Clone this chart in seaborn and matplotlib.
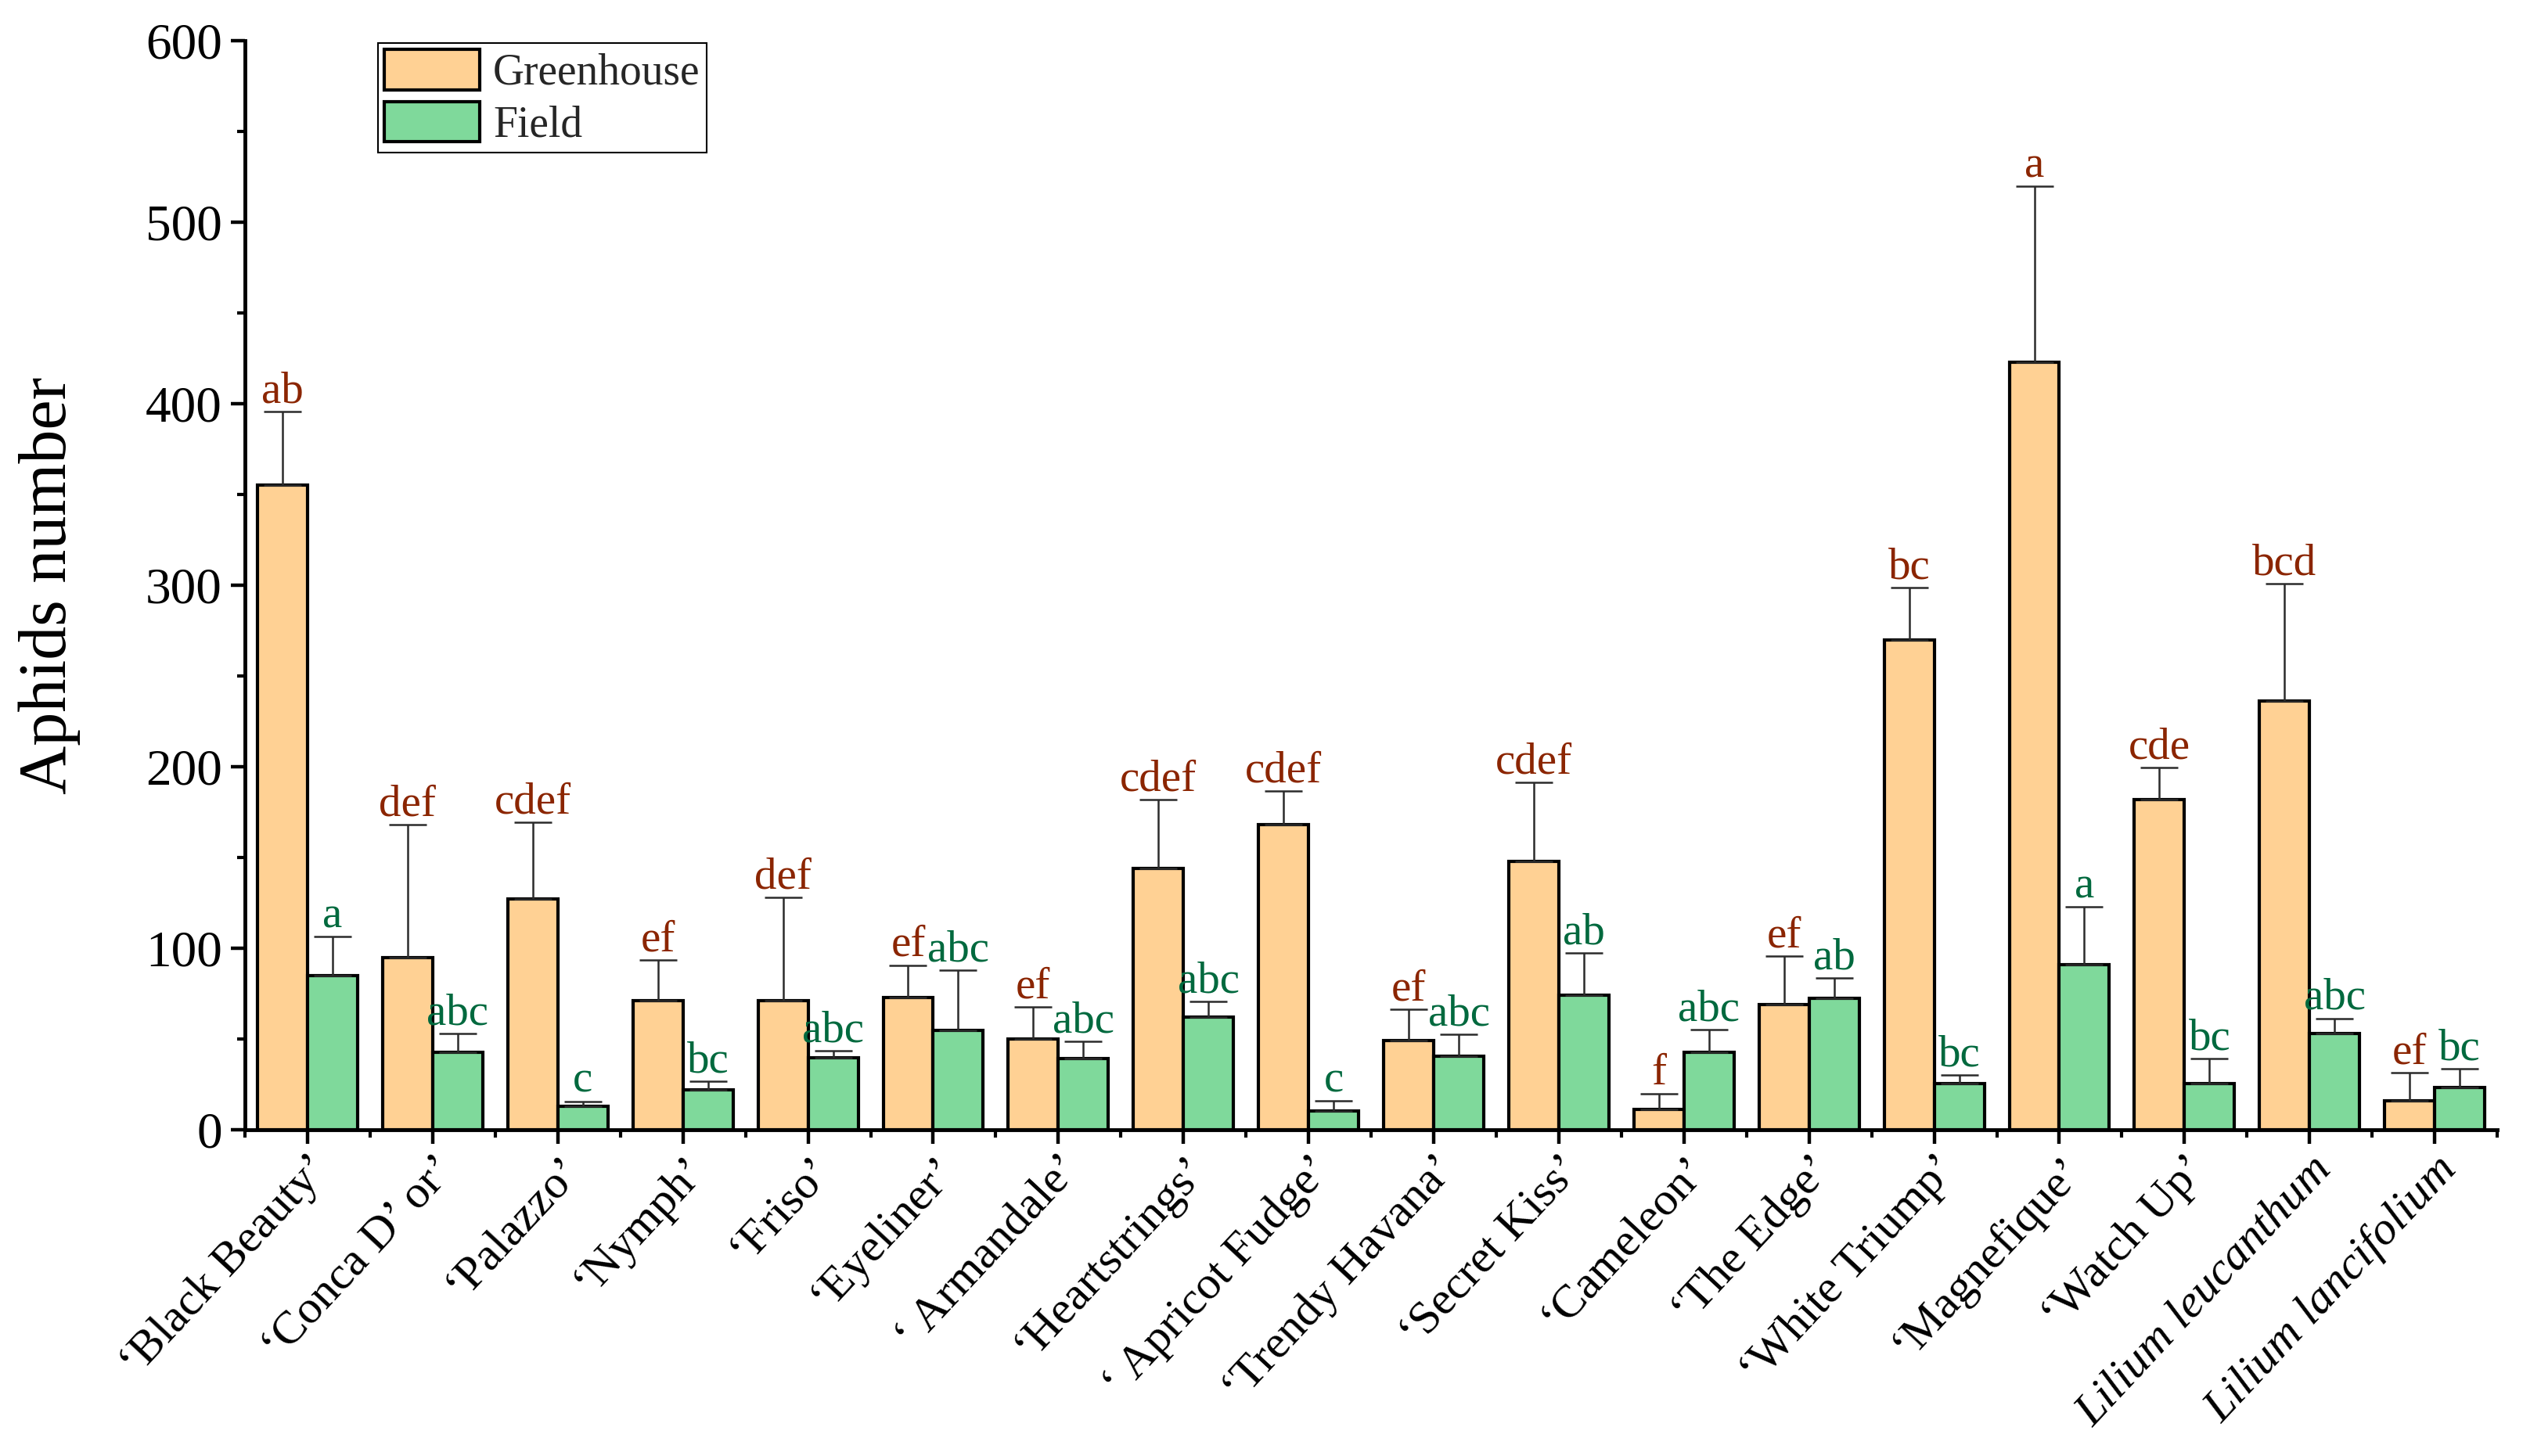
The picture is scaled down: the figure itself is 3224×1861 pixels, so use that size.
import numpy as np
import pandas as pd
import matplotlib
matplotlib.use("Agg")
import matplotlib.pyplot as plt
from matplotlib.ticker import MultipleLocator, FixedLocator
import seaborn as sns

cultivars = ["‘Black Beauty’", "‘Conca D’ or’", "‘Palazzo’", "‘Nymph’", "‘Friso’",
             "‘Eyeliner’", "‘ Armandale’", "‘Heartstrings’", "‘ Apricot Fudge’",
             "‘Trendy Havana’", "‘Secret Kiss’", "‘Cameleon’", "‘The Edge’",
             "‘White Triump’", "‘Magnefique’", "‘Watch Up’",
             "Lilium leucanthum", "Lilium lancifolium"]
italic_labels = ["Lilium leucanthum", "Lilium lancifolium"]

greenhouse_mean = [355, 95, 127, 71, 71, 73, 50, 144, 168, 49, 148, 11, 69, 270, 423, 182, 236, 16]
greenhouse_se = [40.5, 73, 42.5, 22.5, 57, 17.7, 17.6, 37.8, 18.7, 17.4, 43.3, 8.8, 26.6, 28.8, 97, 17.6, 64.7, 15.5]
field_mean = [85, 42.5, 12.7, 22.1, 39.5, 54.8, 39.0, 62.2, 10.5, 40.6, 74.3, 42.6, 72.2, 25.3, 91, 25.2, 52.9, 23.4]
field_se = [21.4, 10.5, 3.0, 4.4, 3.9, 33.2, 9.6, 8.3, 5.4, 11.9, 23.1, 12.6, 11.5, 4.7, 31.7, 13.9, 8.5, 10.3]

greenhouse_letters = ["ab", "def", "cdef", "ef", "def", "ef", "ef", "cdef", "cdef", "ef",
                      "cdef", "f", "ef", "bc", "a", "cde", "bcd", "ef"]
field_letters = ["a", "abc", "c", "bc", "abc", "abc", "abc", "abc", "c", "abc",
                 "ab", "abc", "ab", "bc", "a", "bc", "abc", "bc"]

conditions = ["Greenhouse", "Field"]
bar_colors = {"Greenhouse": "#FFD194", "Field": "#7FD99B"}
letter_colors = {"Greenhouse": "#8B2500", "Field": "#00693E"}

df = pd.DataFrame({
    "cultivar": cultivars * 2,
    "condition": ["Greenhouse"] * len(cultivars) + ["Field"] * len(cultivars),
    "aphids": greenhouse_mean + field_mean,
})

sns.set_theme(style="ticks")
plt.rcParams["font.family"] = ["Liberation Serif", "DejaVu Serif"]

fig = plt.figure(figsize=(32.24, 18.61), dpi=100)
ax = fig.add_axes([0.0971, 0.2241, 0.9898 - 0.0971, 0.972 - 0.2241])

sns.barplot(data=df, x="cultivar", y="aphids", hue="condition", order=cultivars,
            hue_order=conditions, palette=bar_colors, errorbar=None, width=0.8,
            edgecolor="black", linewidth=3.0, saturation=1, ax=ax, zorder=2)

series = {"Greenhouse": (greenhouse_mean, greenhouse_se, greenhouse_letters),
          "Field": (field_mean, field_se, field_letters)}
for cont, cond in zip(ax.containers, conditions):
    means, ses, letters = series[cond]
    xs = np.array([p.get_x() + p.get_width() / 2 for p in cont.patches])
    hs = np.array([p.get_height() for p in cont.patches])
    ses = np.array(ses)
    ax.errorbar(xs, hs, yerr=[np.zeros_like(ses), ses], fmt="none", ecolor="#2b2b2b",
                elinewidth=1.8, capsize=17, capthick=1.8, zorder=3)
    for x, h, s, lab in zip(xs, hs, ses, letters):
        ax.text(x, h + s + 5, lab, ha="center", va="baseline", fontsize=41,
                color=letter_colors[cond], zorder=4)

ax.set_xlim(-0.5, len(cultivars) - 0.5)
ax.set_ylim(0, 600)
ax.yaxis.set_major_locator(MultipleLocator(100))
ax.yaxis.set_minor_locator(MultipleLocator(50))
ax.xaxis.set_minor_locator(FixedLocator(np.arange(-0.5, len(cultivars), 1.0)))

ax.set_xticks(range(len(cultivars)))
ax.set_xticklabels(cultivars, rotation=47, ha="right", va="top", rotation_mode="anchor")
for t in ax.get_xticklabels():
    if t.get_text() in italic_labels:
        t.set_style("italic")

for side in ["top", "right"]:
    ax.spines[side].set_visible(False)
for side in ["left", "bottom"]:
    ax.spines[side].set_linewidth(3.5)
    ax.spines[side].set_color("black")

ax.tick_params(axis="both", which="major", length=13, width=3.2, color="black",
               labelcolor="black", direction="out")
ax.tick_params(axis="y", which="major", labelsize=47, pad=8)
ax.tick_params(axis="x", which="major", labelsize=43, pad=4)
ax.tick_params(axis="both", which="minor", length=7, width=3.0, color="black", direction="out")

ax.set_xlabel("")
ax.set_ylabel("Aphids number", fontsize=62, color="black")
ax.yaxis.set_label_coords(-0.073, 0.5)

leg = ax.legend(loc="upper left", bbox_to_anchor=(0.059, 0.998), fontsize=40,
                frameon=True, fancybox=False, edgecolor="black", framealpha=1,
                borderaxespad=0, borderpad=0.15, handlelength=2.2, handleheight=1.05,
                handletextpad=0.3, labelspacing=0.18, title=None)
leg.get_frame().set_linewidth(1.5)
for h in leg.legend_handles:
    h.set_edgecolor("black")
    h.set_linewidth(3)

ax.set_facecolor("white")
fig.patch.set_facecolor("white")
fig.savefig("out.png", dpi=100)
